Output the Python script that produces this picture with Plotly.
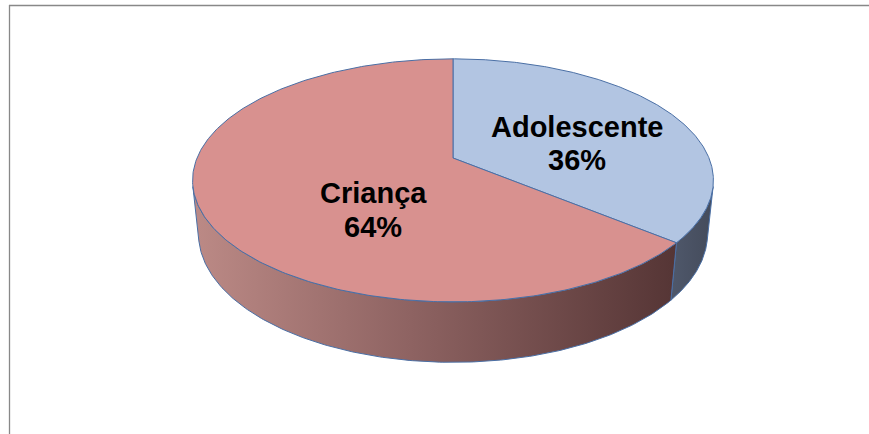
import numpy as np
import plotly.graph_objects as go

# Share of cases by age group
categories = ["Adolescente", "Criança"]
values = [36, 64]

top_colors = ["#B2C5E2", "#D8918F"]
wall_gradients = [
    [[0.0, "#4F586B"], [1.0, "#444B5B"]],
    [[0.0, "#BC8A86"], [0.45, "#8E6362"], [1.0, "#553535"]],
]
edge_color = "#4A6FA5"

# 3-D pie geometry (screen pixels)
W, H = 869, 434
CX, CY = 453, 158          # projected pie centre
SCALE = 256                # radius in pixels
TILT = np.radians(27.3)    # camera elevation
DIST = 4.83                # camera distance (in radii)
DEPTH = 0.237              # disc thickness (in radii)
cos_t, sin_t = np.cos(TILT), np.sin(TILT)


def project(phi_deg, r, h):
    """Perspective projection of a point on the disc; phi clockwise from the back."""
    phi = np.radians(phi_deg)
    X = r * np.sin(phi)
    Z = r * np.cos(phi)
    depth = DIST + Z * cos_t - h * sin_t
    f = DIST / depth
    sx = X * f
    sy = (h * cos_t + Z * sin_t) * f
    return CX + SCALE * sx, CY - SCALE * sy


# Visible front arc of the cylinder wall
phi_sil = np.degrees(np.arccos(-1.0 / (DIST * cos_t)))
vis_lo, vis_hi = phi_sil, 360 - phi_sil

total = sum(values)
bounds = np.concatenate([[0], np.cumsum(values)]) / total * 360.0

fig = go.Figure()

# Side walls
for i, name in enumerate(categories):
    a, b = max(bounds[i], vis_lo), min(bounds[i + 1], vis_hi)
    if a >= b:
        continue
    phis = np.linspace(a, b, 200)
    tx, ty = project(phis, 1.0, 0.0)
    bx, by = project(phis[::-1], 1.0, -DEPTH)
    xs = np.concatenate([tx, bx, tx[:1]])
    ys = np.concatenate([ty, by, ty[:1]])
    fig.add_trace(go.Scatter(
        x=xs, y=ys, mode="lines", fill="toself",
        fillgradient=dict(type="horizontal", colorscale=wall_gradients[i],
                          start=float(xs.min()), stop=float(xs.max())),
        line=dict(color=edge_color, width=1),
        hoverinfo="skip", showlegend=False,
    ))

# Top faces
for i, name in enumerate(categories):
    phis = np.linspace(bounds[i], bounds[i + 1], 300)
    rx, ry = project(phis, 1.0, 0.0)
    ox, oy = project(0.0, 0.0, 0.0)
    xs = np.concatenate([[ox], rx, [ox]])
    ys = np.concatenate([[oy], ry, [oy]])
    fig.add_trace(go.Scatter(
        x=xs, y=ys, mode="lines", fill="toself", fillcolor=top_colors[i],
        line=dict(color=edge_color, width=1),
        hoverinfo="skip", showlegend=False,
    ))

# Data labels: category name and percentage
label_pos = {"Adolescente": (577, 127, 160), "Criança": (373, 193, 227)}
label_font = dict(family="Liberation Sans, Arial, sans-serif", size=29, color="#000000")
for name, val in zip(categories, values):
    lx, ly1, ly2 = label_pos[name]
    for text, ly in ((name, ly1), (f"{val}%", ly2)):
        fig.add_annotation(x=lx, y=ly, text=f"<b>{text}</b>", showarrow=False,
                           xanchor="center", yanchor="middle", font=label_font)

# Chart-area frame
frame = dict(color="#888888", width=1.3)
fig.add_shape(type="line", x0=9.5, x1=9.5, y0=5, y1=H + 5, line=frame, layer="above")
fig.add_shape(type="line", x0=9, x1=W + 5, y0=5.5, y1=5.5, line=frame, layer="above")

axis = dict(visible=False, showgrid=False, zeroline=False, fixedrange=True)
fig.update_layout(
    width=W, height=H,
    margin=dict(l=0, r=0, t=0, b=0),
    paper_bgcolor="white", plot_bgcolor="white",
    xaxis=dict(range=[0, W], **axis),
    yaxis=dict(range=[H, 0], **axis),
    showlegend=False,
)

fig.write_html("out.html")
